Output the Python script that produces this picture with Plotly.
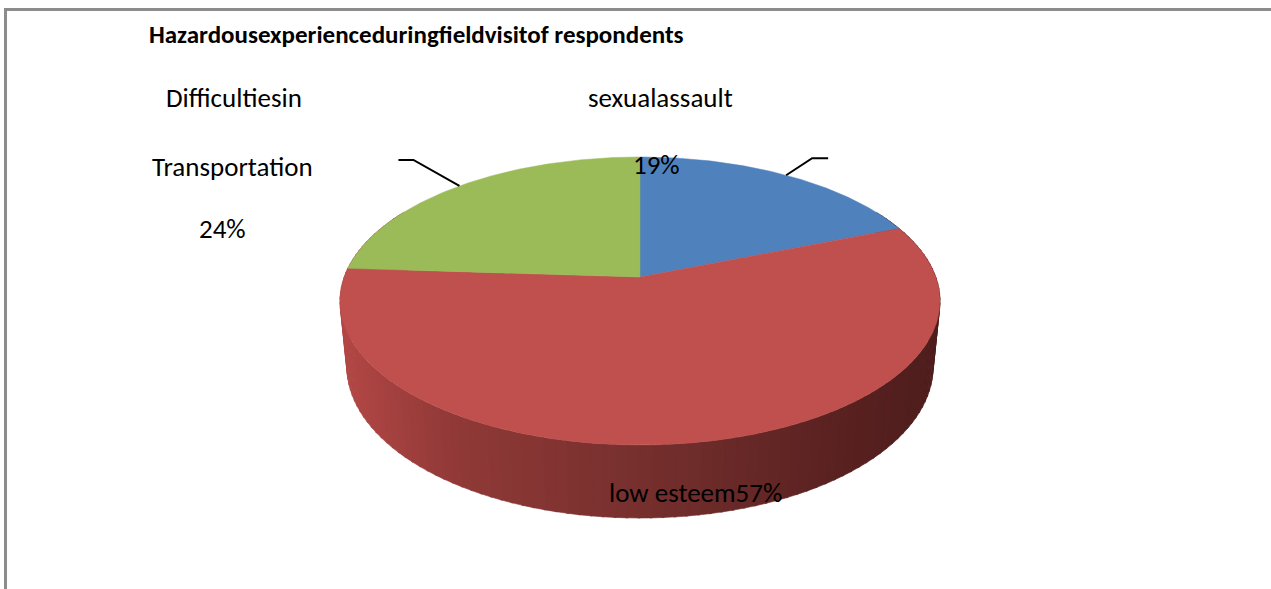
import numpy as np
import plotly.graph_objects as go

# ---------------- data ----------------
categories = ["sexualassault", "low esteem", "Difficultiesin Transportation"]
values = [19, 57, 24]
percent_labels = ["19%", "57%", "24%"]
colors = ["#4f81bd", "#c0504d", "#9bbb59"]
title_text = "Hazardousexperienceduringfieldvisitof respondents"

# ---------------- layout / geometry ----------------
W, H = 1271, 589
CX, CY = 640, 277          # pixel position of the pie centre (top face)
TILT = np.radians(28.25)   # viewing elevation
DIST = 5.287               # camera distance (perspective)
SCALE = 1564               # projection scale
THICK = 0.2546             # pie thickness (radius units)
FONT = "Calibri, Carlito, Lato, sans-serif"


def project(theta_deg, y=0.0):
    """theta measured clockwise from 12 o'clock; y = height (0 top face)."""
    t = np.radians(theta_deg)
    X, Z = np.sin(t), np.cos(t)
    s, c = np.sin(TILT), np.cos(TILT)
    yc = Z * s + y * c
    zc = DIST + Z * c - y * s
    return CX + SCALE * X / zc, CY - SCALE * yc / zc


total = float(sum(values))
spans = [v / total * 360.0 for v in values]
starts = np.concatenate([[0.0], np.cumsum(spans)[:-1]])

# wall shading (light from the left)
shade_x = [340, 450, 640, 850, 945]
shade_rgb = [(180, 72, 70), (146, 58, 56), (118, 48, 46), (88, 33, 32), (78, 29, 29)]


def wall_color(px):
    r = np.interp(px, shade_x, [c[0] for c in shade_rgb])
    g = np.interp(px, shade_x, [c[1] for c in shade_rgb])
    b = np.interp(px, shade_x, [c[2] for c in shade_rgb])
    return f"rgb({int(r)},{int(g)},{int(b)})"


fig = go.Figure()

# ---- side walls (only the front-facing part is visible) ----
for i, (st, sp) in enumerate(zip(starts, spans)):
    a0 = max(st, 60.0)
    a1 = min(st + sp, 300.0)
    if a1 <= a0:
        continue
    n = int(np.ceil((a1 - a0) / 2.0))
    edges = np.linspace(a0, a1, n + 1)
    for k in range(n):
        t0, t1 = edges[k], min(edges[k + 1] + 0.4, a1)
        ts = np.linspace(t0, t1, 4)
        xt, yt = project(ts, 0.0)
        xb, yb = project(ts[::-1], -THICK)
        xs = np.concatenate([xt, xb, xt[:1]])
        ys = np.concatenate([yt, yb, yt[:1]])
        col = wall_color(project((t0 + t1) / 2, -THICK / 2)[0])
        fig.add_trace(go.Scatter(x=xs, y=ys, mode="lines", fill="toself",
                                 fillcolor=col, line=dict(color=col, width=0.6),
                                 hoverinfo="skip", showlegend=False))

# ---- top faces ----
for i, (st, sp) in enumerate(zip(starts, spans)):
    ts = np.linspace(st, st + sp, max(int(sp), 2) * 2)
    xa, ya = project(ts, 0.0)
    xs = np.concatenate([[CX], xa, [CX]])
    ys = np.concatenate([[CY], ya, [CY]])
    fig.add_trace(go.Scatter(x=xs, y=ys, mode="lines", fill="toself",
                             fillcolor=colors[i], line=dict(color=colors[i], width=0.5),
                             hoverinfo="skip", showlegend=False, name=categories[i]))

# ---- leader lines (from slice mid-edge) ----
mid_blue = starts[0] + spans[0] / 2
mid_green = starts[2] + spans[2] / 2
bx, by = project(mid_blue, 0.0)
gx, gy = project(mid_green, 0.0)
fig.add_trace(go.Scatter(x=[bx, bx + 26, bx + 42], y=[by, by - 17, by - 17], mode="lines",
                         line=dict(color="black", width=2), hoverinfo="skip", showlegend=False))
fig.add_trace(go.Scatter(x=[gx, gx - 46, gx - 61], y=[gy, gy - 26, gy - 26], mode="lines",
                         line=dict(color="black", width=2), hoverinfo="skip", showlegend=False))

# ---- texts ----
lab_font = dict(family=FONT, size=27, color="black")
annos = [
    (title_text, 147, 34, "left", dict(family=FONT, size=25, color="black", weight="bold")),
    ("Difficultiesin", 234, 97, "center", lab_font),
    ("Transportation", 232, 166, "center", lab_font),
    (percent_labels[2], 222, 228, "center", lab_font),
    (categories[0], 660, 97, "center", lab_font),
    (percent_labels[0], 656, 164, "center", lab_font),
    (categories[1] + percent_labels[1], 695, 492, "center", lab_font),
]
for txt, x, y, anc, fnt in annos:
    fig.add_annotation(x=x, y=y, xref="x", yref="y", text=txt, showarrow=False,
                       xanchor=anc, yanchor="middle", font=fnt)

# ---- chart border ----
fig.add_shape(type="rect", xref="paper", yref="paper",
              x0=5.5 / W, x1=1.2, y0=-0.2, y1=1 - 9.5 / H,
              line=dict(color="#8c8c8c", width=3), fillcolor="rgba(0,0,0,0)")

fig.update_layout(
    width=W, height=H,
    margin=dict(l=0, r=0, t=0, b=0),
    paper_bgcolor="white", plot_bgcolor="white",
    xaxis=dict(range=[0, W], visible=False, fixedrange=True),
    yaxis=dict(range=[H, 0], visible=False, fixedrange=True),
    showlegend=False,
)

fig.write_html("out.html")
